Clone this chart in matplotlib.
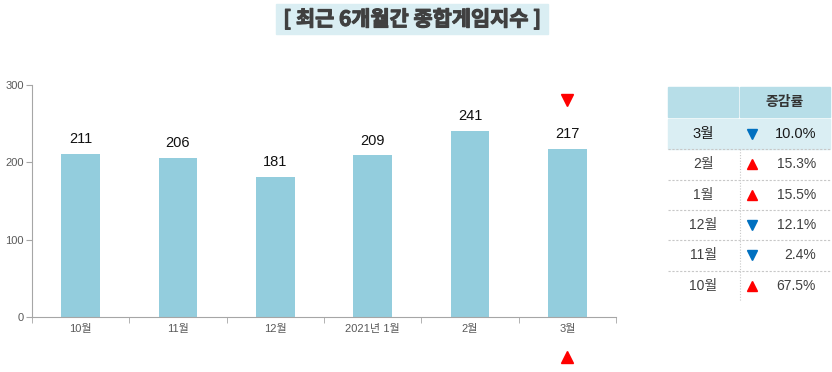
import matplotlib
matplotlib.use('Agg')
import matplotlib.pyplot as plt
import matplotlib.patheffects as pe
from matplotlib.patches import Rectangle

plt.rcParams['font.family'] = ['Liberation Sans', 'Noto Sans CJK KR']

# data
months = ['10월', '11월', '12월', '2021년 1월', '2월', '3월']
index_values = [211, 206, 181, 209, 241, 217]

table_months = ['3월', '2월', '1월', '12월', '11월', '10월']
table_rates = [10.0, 15.3, 15.5, 12.1, 2.4, 67.5]
table_up = [False, True, True, False, False, True]

BAR_COLOR = '#93CDDD'
W, H = 832, 372

fig = plt.figure(figsize=(W / 100, H / 100), dpi=100)

# main bar chart
ax = fig.add_axes([32 / W, (H - 317) / H, (616 - 32) / W, (317 - 85) / H])
x = range(len(months))
bars = ax.bar(x, index_values, width=0.4, color=BAR_COLOR, zorder=2)
for xi, v in zip(x, index_values):
    ax.text(xi, v + 10, str(v), ha='center', va='bottom', fontsize=10.5, color='#111111')

ax.set_xlim(-0.5, len(months) - 0.5)
ax.set_ylim(0, 300)
ax.set_yticks([0, 100, 200, 300])
ax.set_xticks(list(x))
ax.set_xticklabels(months, fontsize=8, color='#595959')
ax.set_xticks([i + 0.5 for i in range(-1, len(months))], minor=True)
ax.tick_params(axis='x', which='major', length=0, pad=5)
ax.tick_params(axis='x', which='minor', length=4, color='#A6A6A6', direction='out')
ax.tick_params(axis='y', length=4, color='#A6A6A6', labelsize=8, labelcolor='#595959', pad=2)
for s in ['top', 'right']:
    ax.spines[s].set_visible(False)
ax.spines['left'].set_color('#A6A6A6')
ax.spines['bottom'].set_color('#A6A6A6')

# red markers above and below the last bar
last = len(months) - 1
ax.plot([last], [280], marker='v', color='#FF0000', markersize=8, clip_on=False, zorder=3)
ax.plot([last], [-52], marker='^', color='#FF0000', markersize=8, clip_on=False, zorder=3)

# overlay in pixel coordinates for title and table
ov = fig.add_axes([0, 0, 1, 1])
ov.set_xlim(0, W)
ov.set_ylim(H, 0)
ov.axis('off')

ov.add_patch(Rectangle((276, 4), 272, 30, color='#DAEEF3', zorder=1))
ov.text(412, 19, '[ 최근 6개월간 종합게임지수 ]', ha='center', va='center',
        fontsize=15, fontweight='bold', color='#404040', zorder=2,
        family=['Noto Sans CJK KR', 'DejaVu Sans'],
        path_effects=[pe.withStroke(linewidth=0.8, foreground='#404040')])

# table
tx0, tx1, tx2 = 668, 739, 830
row_h = 30.3
top = 87
ov.add_patch(Rectangle((tx0, top), tx1 - tx0 - 1, 30, color='#B7DEE8'))
ov.add_patch(Rectangle((tx1 + 1, top), tx2 - tx1 - 1, 30, color='#B7DEE8'))
ov.text((tx1 + tx2) / 2, top + 15, '증감률', ha='center', va='center',
        fontsize=10, fontweight='bold', color='#333333')

y0 = top + 32
for i, (m, r, up) in enumerate(zip(table_months, table_rates, table_up)):
    yt = y0 + i * row_h
    yc = yt + row_h / 2
    first = i == 0
    if first:
        ov.add_patch(Rectangle((tx0, yt), tx2 - tx0, row_h, color='#DAEEF3'))
    else:
        ov.plot([tx0, tx2], [yt, yt], color='#C8C8C8', lw=0.8, ls=(0, (2, 1.5)))
    col = '#1A1A1A' if first else '#404040'
    fs = 10.5 if first else 10
    ov.text((tx0 + tx1) / 2, yc, m, ha='center', va='center', fontsize=fs, color=col,
            fontweight='medium' if first else 'normal')
    ov.plot([752], [yc], marker='^' if up else 'v', markersize=7,
            color='#FF0000' if up else '#0070C0', linestyle='none')
    ov.text(816, yc, f'{r:.1f}%', ha='right', va='center', fontsize=fs, color=col)

ov.plot([tx1 + 1, tx1 + 1], [y0 + row_h, y0 + 6 * row_h], color='#C8C8C8', lw=0.8,
        ls=(0, (1, 1.5)))

fig.savefig('out.png', dpi=100)
